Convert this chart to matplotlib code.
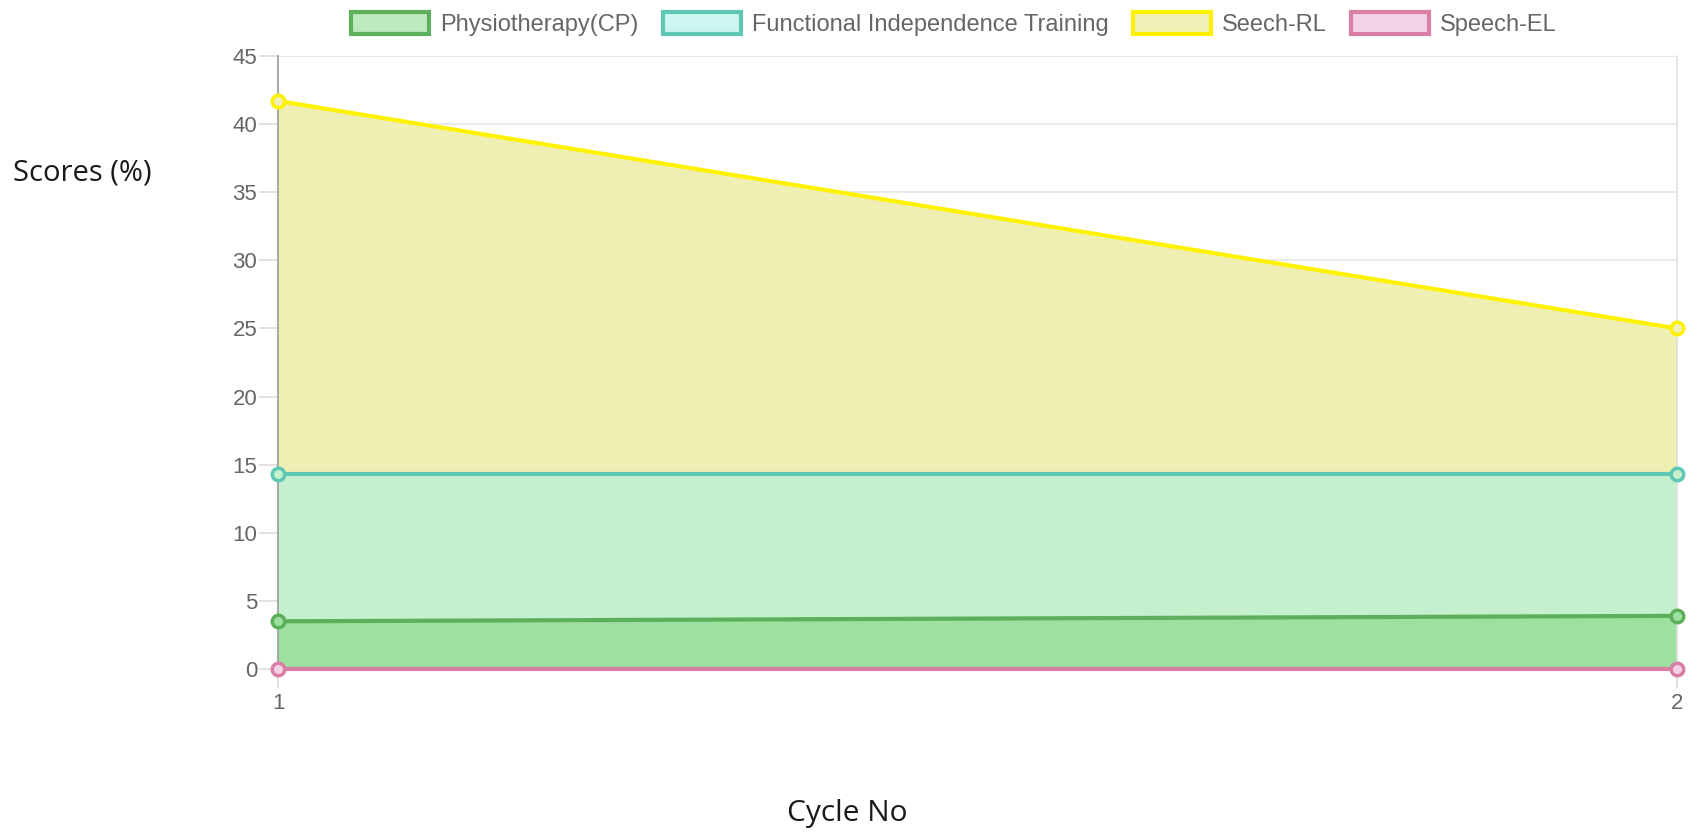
import numpy as np
import matplotlib
matplotlib.use("Agg")
import matplotlib.pyplot as plt
from matplotlib.patches import Patch

################################################################################
# Data
#--------------------
cycles = [1, 2]
physio = [3.5, 3.9]
fit_training = [14.3, 14.3]
speech_rl = [41.7, 25.0]
speech_el = [0.0, 0.0]

labels = ["Physiotherapy(CP)", "Functional Independence Training",
          "Seech-RL", "Speech-EL"]

################################################################################
# Styles
#--------------------
# (line colour, area colour as it looks once the fills overlap, legend face)
styles = {
    "Seech-RL": ("#fff200", "#f0efb3", "#f0efb5"),
    "Functional Independence Training": ("#5ec8b4", "#c4f0cd", "#cdf6f0"),
    "Physiotherapy(CP)": ("#5cb05c", "#9de09f", "#bfe9bf"),
    "Speech-EL": ("#d97ea4", "#f3d2e6", "#f3d2e8"),
}
series = {
    "Physiotherapy(CP)": physio,
    "Functional Independence Training": fit_training,
    "Seech-RL": speech_rl,
    "Speech-EL": speech_el,
}

tick_font = ["Liberation Sans", "DejaVu Sans"]
title_font = ["Open Sans", "DejaVu Sans"]

fig = plt.figure(figsize=(16.91, 8.40), dpi=100)
ax = fig.add_axes([0.1644, 0.2036, 0.9917 - 0.1644, 0.9333 - 0.2036])

# fills, largest first so the smaller ones sit on top
for name in ["Seech-RL", "Functional Independence Training",
             "Physiotherapy(CP)"]:
    ax.fill_between(cycles, 0, series[name], color=styles[name][1],
                    lw=0, zorder=1)

for name in ["Seech-RL", "Functional Independence Training",
             "Physiotherapy(CP)", "Speech-EL"]:
    line_c, area_c, face_c = styles[name]
    ax.plot(cycles, series[name], color=line_c, lw=3, zorder=3,
            marker="o", ms=9, mew=2.5, mfc=area_c, mec=line_c,
            clip_on=False)

ax.set_xlim(1, 2)
ax.set_ylim(0, 45)
ax.set_xticks(cycles)
ax.set_yticks(np.arange(0, 46, 5))
ax.grid(axis="y", color="#e6e6e6", lw=1.2, zorder=0)
ax.set_axisbelow(True)
for s in ["top", "bottom"]:
    ax.spines[s].set_visible(False)
ax.spines["left"].set_color("#9a9a9a")
ax.spines["left"].set_linewidth(1.2)
ax.spines["right"].set_color("#e0e0e0")
ax.spines["right"].set_linewidth(1.2)
ax.tick_params(axis="both", colors="#dcdcdc", length=14, width=1.2,
               labelcolor="#666666", labelsize=16)
ax.tick_params(axis="y", pad=1)
ax.tick_params(axis="x", pad=3)
for t in ax.get_xticklabels() + ax.get_yticklabels():
    t.set_family(tick_font)

fig.text(13 / 1691, 1 - 173 / 840, "Scores (%)", family=title_font,
         fontsize=21, color="#1a1a1a", ha="left", va="center")
fig.text(847 / 1691, 1 - 814 / 840, "Cycle No", family=title_font,
         fontsize=21.5, color="#1a1a1a", ha="center", va="center")

handles = [Patch(facecolor=styles[n][2], edgecolor=styles[n][0], lw=3)
           for n in labels]
leg = fig.legend(handles, labels, loc="center", ncol=4,
                 bbox_to_anchor=(954 / 1691, 1 - 24 / 840), frameon=False,
                 handlelength=3.3, handleheight=1.1, handletextpad=0.45,
                 columnspacing=1.05, prop={"family": tick_font, "size": 17})
for t in leg.get_texts():
    t.set_color("#666666")

fig.savefig("out.png", dpi=100)
